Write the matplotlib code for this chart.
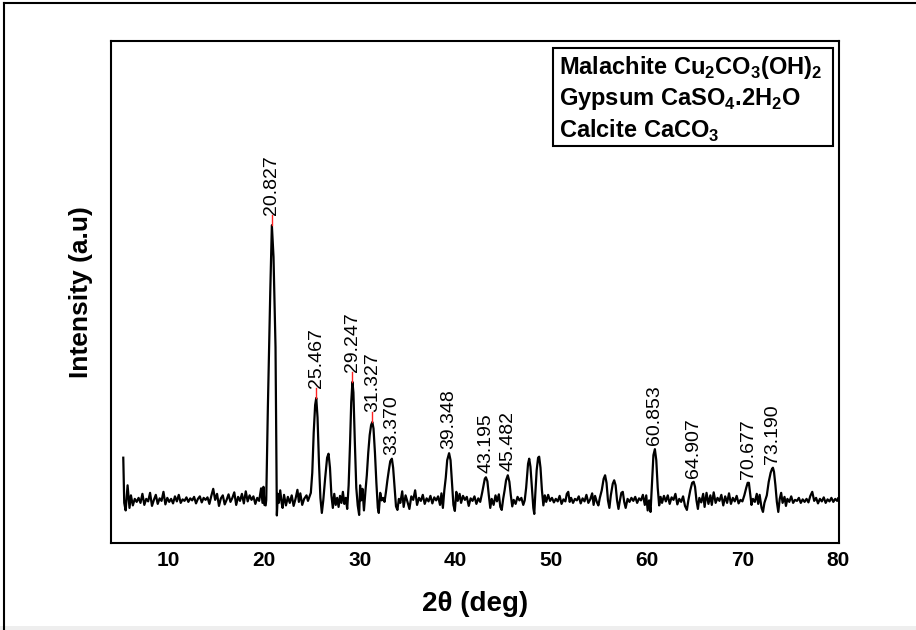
import matplotlib
matplotlib.use("Agg")
import matplotlib.pyplot as plt
import numpy as np
from matplotlib.lines import Line2D
from matplotlib.patches import Rectangle

plt.rcParams['font.family'] = ['Liberation Sans', 'DejaVu Sans']
plt.rcParams['mathtext.fontset'] = 'custom'
plt.rcParams['mathtext.rm'] = 'Liberation Sans'
plt.rcParams['mathtext.bf'] = 'Liberation Sans:bold'

# Difractograma (2θ en grados, intensidad en unidades arbitrarias)
two_theta = [
    5.30, 5.40, 5.55, 5.75, 5.95, 6.10, 6.30, 6.50, 6.70, 6.90, 7.10, 7.30, 7.50, 7.70, 7.90,
    8.10, 8.30, 8.50, 8.70, 8.90, 9.10, 9.30, 9.50, 9.70, 9.90, 10.10, 10.30, 10.50, 10.70, 10.90,
    11.10, 11.30, 11.50, 11.70, 11.90, 12.10, 12.30, 12.50, 12.70, 12.90, 13.10, 13.30, 13.50,
    13.70, 13.90, 14.10, 14.30, 14.50, 14.70, 14.90, 15.10, 15.30, 15.50, 15.70, 15.90, 16.10,
    16.30, 16.50, 16.70, 16.90, 17.10, 17.30, 17.50, 17.70, 17.90, 18.10, 18.30, 18.50, 18.70,
    18.90, 19.10, 19.30, 19.50, 19.70, 19.85, 19.95, 20.05, 20.18, 20.24, 20.41, 20.66, 20.827,
    21.00, 21.21, 21.29, 21.35, 21.45, 21.55, 21.70, 21.85, 21.95, 22.10, 22.30, 22.50, 22.70,
    22.90, 23.10, 23.30, 23.50, 23.65, 23.80, 24.00, 24.20, 24.45, 24.60, 24.75, 24.90, 25.05,
    25.20, 25.35, 25.467, 25.60, 25.75, 25.90, 26.05, 26.20, 26.40, 26.60, 26.75, 26.90, 27.05,
    27.20, 27.35, 27.50, 27.65, 27.80, 27.95, 28.10, 28.25, 28.40, 28.55, 28.70, 28.85, 29.00,
    29.12, 29.247, 29.35, 29.50, 29.65, 29.80, 29.95, 30.05, 30.15, 30.30, 30.45, 30.60, 30.75,
    30.90, 31.05, 31.20, 31.327, 31.45, 31.60, 31.75, 31.90, 32.00, 32.15, 32.30, 32.45, 32.60,
    32.75, 32.90, 33.05, 33.20, 33.370, 33.50, 33.65, 33.80, 33.95, 34.10, 34.25, 34.45, 34.60,
    34.80, 35.00, 35.20, 35.40, 35.60, 35.80, 36.00, 36.20, 36.40, 36.60, 36.80, 37.00, 37.20,
    37.40, 37.60, 37.80, 38.00, 38.20, 38.40, 38.55, 38.70, 38.85, 39.00, 39.15, 39.348, 39.50,
    39.65, 39.80, 39.95, 40.10, 40.25, 40.45, 40.60, 40.80, 41.00, 41.20, 41.40, 41.60, 41.80,
    42.00, 42.20, 42.40, 42.60, 42.80, 42.95, 43.08, 43.195, 43.35, 43.50, 43.65, 43.80, 44.00,
    44.20, 44.35, 44.55, 44.70, 44.85, 45.00, 45.15, 45.30, 45.482, 45.65, 45.80, 45.95, 46.10,
    46.30, 46.50, 46.70, 46.90, 47.10, 47.25, 47.40, 47.60, 47.72, 47.85, 48.00, 48.15, 48.25,
    48.35, 48.50, 48.65, 48.76, 48.90, 49.05, 49.20, 49.35, 49.50, 49.70, 49.90, 50.10, 50.30,
    50.50, 50.70, 50.90, 51.10, 51.30, 51.50, 51.65, 51.80, 51.95, 52.10, 52.30, 52.50, 52.70,
    52.90, 53.10, 53.30, 53.50, 53.70, 53.90, 54.10, 54.30, 54.45, 54.60, 54.80, 54.95, 55.10,
    55.30, 55.50, 55.65, 55.80, 55.95, 56.10, 56.25, 56.45, 56.60, 56.75, 56.90, 57.05, 57.20,
    57.35, 57.50, 57.65, 57.80, 58.00, 58.20, 58.40, 58.60, 58.80, 59.00, 59.20, 59.40, 59.60,
    59.80, 59.95, 60.10, 60.25, 60.40, 60.55, 60.70, 60.853, 61.00, 61.15, 61.30, 61.45, 61.60,
    61.80, 62.00, 62.20, 62.40, 62.60, 62.80, 63.00, 63.20, 63.40, 63.60, 63.80, 64.00, 64.20,
    64.35, 64.55, 64.75, 64.907, 65.05, 65.20, 65.35, 65.50, 65.70, 65.90, 66.05, 66.25, 66.45,
    66.65, 66.80, 67.00, 67.20, 67.40, 67.60, 67.80, 68.00, 68.20, 68.40, 68.60, 68.80, 69.00,
    69.20, 69.40, 69.60, 69.80, 70.00, 70.20, 70.40, 70.55, 70.677, 70.80, 70.95, 71.10, 71.30,
    71.50, 71.65, 71.80, 72.00, 72.15, 72.30, 72.55, 72.75, 72.95, 73.10, 73.190, 73.30, 73.45,
    73.60, 73.75, 73.90, 74.05, 74.20, 74.40, 74.55, 74.70, 74.90, 75.10, 75.30, 75.50, 75.70,
    75.90, 76.10, 76.30, 76.50, 76.70, 76.90, 77.10, 77.30, 77.50, 77.70, 77.90, 78.10, 78.30,
    78.50, 78.70, 78.90, 79.10, 79.30, 79.50, 79.70, 79.90, 80.00,
]
intensidad = [
    17.0, 8.0, 6.5, 11.5, 7.0, 9.5, 7.5, 8.8, 8.2, 9.0, 8.0, 9.8, 7.6, 8.8, 8.3,
    10.0, 7.4, 8.6, 9.6, 7.8, 8.9, 8.4, 10.2, 7.7, 9.0, 8.2, 8.8, 7.9, 9.3, 8.3,
    9.6, 8.0, 8.7, 8.4, 9.1, 8.2, 8.9, 8.5, 9.2, 7.9, 8.8, 9.3, 8.1,
    9.0, 8.6, 9.1, 7.8, 9.4, 10.8, 8.6, 9.8, 7.4, 8.9, 9.5, 7.7, 8.6,
    9.7, 8.2, 9.0, 10.1, 7.6, 9.2, 8.4, 9.8, 7.9, 10.3, 8.3, 9.5, 8.6,
    9.3, 7.8, 9.0, 8.4, 10.9, 8.0, 11.2, 7.6, 7.5, 8.6, 27.0, 50.0, 63.3,
    57.0, 39.0, 18.5, 5.5, 9.8, 8.0, 10.5, 8.0, 7.0, 9.6, 7.5, 9.2, 8.0,
    9.5, 7.4, 8.8, 10.6, 8.2, 9.9, 7.6, 8.8, 9.5, 8.4, 9.2, 10.0, 14.0,
    22.0, 27.5, 28.9, 25.0, 16.0, 9.0, 6.0, 8.5, 13.0, 17.0, 17.8, 15.0, 9.5,
    7.0, 9.8, 7.6, 9.0, 7.2, 9.4, 8.0, 10.2, 7.8, 9.0, 6.8, 11.5, 20.0,
    28.0, 32.1, 30.0, 20.0, 11.0, 7.5, 5.6, 11.5, 8.5, 10.8, 6.5, 10.2, 13.5,
    18.0, 21.5, 23.5, 24.1, 22.8, 18.0, 12.0, 7.0, 6.0, 10.0, 8.5, 9.0, 8.2,
    10.2, 12.5, 14.5, 16.3, 16.8, 15.0, 11.0, 7.3, 6.6, 8.8, 8.0, 10.3, 7.2,
    9.5, 8.2, 6.8, 9.3, 8.6, 10.5, 7.6, 9.0, 8.4, 9.6, 7.8, 8.9, 8.3,
    9.4, 7.9, 9.1, 8.5, 9.3, 7.6, 9.9, 7.0, 10.5, 13.0, 16.5, 17.9, 16.5,
    12.0, 7.6, 6.4, 10.2, 8.4, 9.8, 8.0, 9.4, 8.6, 9.2, 7.4, 8.9, 8.4,
    9.3, 7.8, 8.9, 8.2, 10.0, 11.5, 12.8, 13.1, 12.3, 9.5, 7.0, 8.8, 7.6,
    9.5, 8.3, 9.7, 7.2, 6.6, 8.8, 10.5, 12.5, 13.5, 12.2, 9.5, 7.3, 8.6,
    7.8, 9.2, 8.5, 9.0, 7.6, 8.5, 11.0, 15.8, 16.8, 15.2, 11.0, 7.0, 5.8,
    9.5, 14.5, 17.0, 17.2, 15.0, 10.5, 7.5, 9.5, 8.2, 9.6, 8.4, 9.0, 8.1,
    8.8, 8.3, 9.4, 7.8, 8.7, 8.3, 9.8, 10.2, 8.2, 9.0, 8.0, 8.8, 8.5,
    9.3, 7.9, 8.9, 8.3, 9.6, 8.0, 8.7, 9.9, 7.6, 9.4, 8.1, 7.5, 9.0,
    10.5, 12.8, 13.5, 12.0, 8.5, 7.0, 9.5, 11.8, 12.5, 11.5, 8.5, 6.8, 8.5,
    10.0, 10.2, 8.2, 7.0, 8.8, 8.2, 9.0, 8.4, 9.2, 8.0, 8.9, 8.5, 9.6,
    7.6, 9.5, 6.5, 8.5, 6.2, 12.0, 17.5, 18.7, 16.5, 11.0, 7.5, 9.2, 8.0,
    9.4, 8.3, 9.5, 7.8, 9.1, 8.6, 9.8, 7.7, 8.8, 8.2, 9.3, 7.4, 6.6,
    8.5, 10.5, 12.0, 12.2, 11.2, 8.5, 6.8, 9.0, 8.1, 9.8, 7.2, 10.0, 7.8,
    9.5, 7.6, 10.1, 8.0, 9.0, 8.4, 9.6, 7.5, 9.3, 8.0, 9.9, 7.8, 9.0,
    8.3, 9.4, 7.9, 8.6, 8.3, 9.5, 11.0, 12.0, 12.0, 10.0, 7.6, 8.8, 8.2,
    9.8, 7.8, 9.6, 7.0, 6.2, 8.0, 9.5, 12.2, 14.0, 14.8, 15.0, 14.2, 11.5,
    8.2, 6.2, 8.8, 10.0, 8.0, 9.2, 7.4, 8.8, 8.2, 9.3, 8.0, 8.6, 8.4,
    9.0, 8.0, 8.7, 8.2, 8.8, 8.1, 9.4, 10.2, 8.4, 9.0, 7.9, 8.8, 8.3,
    9.1, 8.0, 8.7, 8.3, 9.0, 8.2, 8.8, 8.4, 8.9,
]

# Picos identificados
picos = [20.827, 25.467, 29.247, 31.327, 33.370, 39.348, 43.195, 45.482,
         60.853, 64.907, 70.677, 73.190]
etiquetas_picos = ['20.827', '25.467', '29.247', '31.327', '33.370', '39.348',
                   '43.195', '45.482', '60.853', '64.907', '70.677', '73.190']

fases = [r'Malachite Cu$_\mathbf{2}$CO$_\mathbf{3}$(OH)$_\mathbf{2}$',
         r'Gypsum CaSO$_\mathbf{4}$.2H$_\mathbf{2}$O',
         r'Calcite CaCO$_\mathbf{3}$']

ticks_x = [10, 20, 30, 40, 50, 60, 70, 80]

fig = plt.figure(figsize=(9.16, 6.3), dpi=100)
ax = fig.add_axes([0.121, 0.138, 0.795, 0.797])

ax.plot(two_theta, intensidad, color='black', linewidth=1.6)

ax.set_xlim(4.0, 80.1)
ax.set_ylim(0, 100)
ax.set_xticks(ticks_x)
ax.set_yticks([])
ax.tick_params(axis='x', length=0, pad=6)
for lbl in ax.get_xticklabels():
    lbl.set_fontsize(15)
    lbl.set_fontweight('bold')
for s in ax.spines.values():
    s.set_linewidth(1.5)

ax.set_xlabel('2θ (deg)', fontsize=20, fontweight='bold', labelpad=15)
ax.set_ylabel('Intensity (a.u)', fontsize=19, fontweight='bold', labelpad=13)

# Etiquetas de picos con su marca roja
for pos, txt in zip(picos, etiquetas_picos):
    alto = float(np.interp(pos, two_theta, intensidad))
    if alto > 20:
        base = alto + 2.0
        ax.plot([pos, pos], [alto, base], color='#ff2020', linewidth=1.0)
    else:
        base = alto + 0.8
    ax.text(pos, base, txt, rotation=90, ha='center', va='bottom',
            fontsize=14)

# Cuadro de fases
ax.add_patch(Rectangle((0.607, 0.791), 0.385, 0.195, transform=ax.transAxes,
                       fill=False, edgecolor='black', linewidth=1.5))
for i, f in enumerate(fases):
    ax.text(0.615, 0.948 - i * 0.064, f, transform=ax.transAxes,
            fontsize=17, fontweight='bold', va='center', ha='left')

# Marco exterior
fig.add_artist(Line2D([4 / 916, 1], [1 - 3 / 630, 1 - 3 / 630],
                      transform=fig.transFigure, color='black', linewidth=1.5))
fig.add_artist(Line2D([4 / 916, 4 / 916], [0, 1 - 3 / 630],
                      transform=fig.transFigure, color='black', linewidth=1.5))
fig.add_artist(Rectangle((0, 0), 1, 4 / 630, transform=fig.transFigure,
                         facecolor='#eeeeee', edgecolor='none'))

plt.savefig('out.png', dpi=100)
plt.close()
